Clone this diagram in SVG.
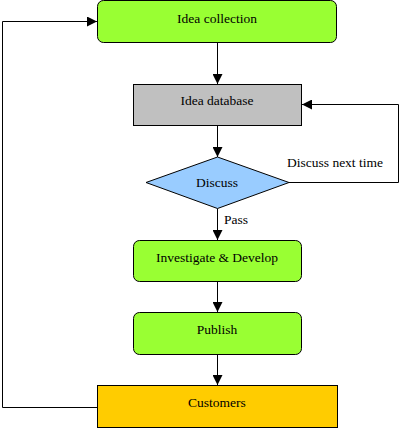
<svg xmlns="http://www.w3.org/2000/svg" width="409" height="428" viewBox="0 0 409 428">
<defs>
<marker id="arr" markerWidth="10" markerHeight="10" refX="10" refY="5" orient="auto" markerUnits="userSpaceOnUse">
<path d="M0,0 L10,5 L0,10 Z" fill="#000"/>
</marker>
</defs>
<style>
text{font-family:"Liberation Serif","Times New Roman",serif;font-size:13.5px;fill:#000}
.n{stroke:#000;stroke-width:1}
.g{fill:#99FF33}
.c{fill:none;stroke:#000;stroke-width:1}
</style>
<rect width="409" height="428" fill="#fff"/>
<g id="connectors">
<path class="c" d="M217.5,42.5 V84" marker-end="url(#arr)"/>
<path class="c" d="M217.5,125.5 V157" marker-end="url(#arr)"/>
<path class="c" d="M217.5,208.5 V240" marker-end="url(#arr)"/>
<path class="c" d="M217.5,281.5 V312" marker-end="url(#arr)"/>
<path class="c" d="M217.5,354.5 V385" marker-end="url(#arr)"/>
<path class="c" d="M289,182.5 H398.5 V104.5 H302" marker-end="url(#arr)"/>
<path class="c" d="M97,407.5 H2.5 V21.5 H97" marker-end="url(#arr)"/>
<text x="287" y="167">Discuss next time</text>
<text x="224" y="224">Pass</text>
</g>
<g id="idea-collection">
<rect class="n g" x="97.5" y="0.5" width="239" height="42" rx="6"/>
<text x="217" y="23" text-anchor="middle">Idea collection</text>
</g>
<g id="idea-database">
<rect class="n" fill="#C0C0C0" x="133.5" y="84.5" width="168" height="41"/>
<text x="217" y="105" text-anchor="middle">Idea database</text>
</g>
<g id="discuss">
<polygon class="n" fill="#99CCFF" points="217.5,157 289,182.5 217.5,208.5 146,182.5"/>
<text x="217" y="187" text-anchor="middle">Discuss</text>
</g>
<g id="investigate">
<rect class="n g" x="133.5" y="240.5" width="168" height="41" rx="6"/>
<text x="217" y="262" text-anchor="middle">Investigate &amp; Develop</text>
</g>
<g id="publish">
<rect class="n g" x="133.5" y="312.5" width="168" height="42" rx="6"/>
<text x="217" y="334" text-anchor="middle">Publish</text>
</g>
<g id="customers">
<rect class="n" fill="#FFCC00" x="97.5" y="385.5" width="240" height="42"/>
<text x="217" y="407" text-anchor="middle">Customers</text>
</g>
</svg>
